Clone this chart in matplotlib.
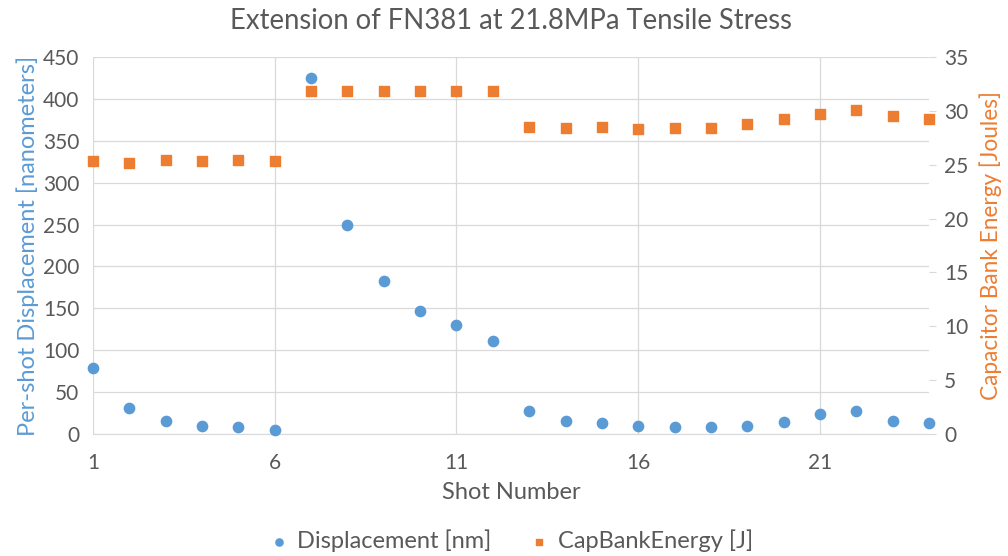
import matplotlib.pyplot as plt

shots = list(range(1, 25))
displacement = [79, 31, 15, 9, 8, 5, 425, 249, 183, 147, 130, 111,
                28, 15, 13, 10, 8, 8, 10, 14, 24, 27, 15, 13]
cap_energy = [25.3, 25.2, 25.4, 25.3, 25.4, 25.3, 31.8, 31.8, 31.8, 31.8, 31.8, 31.8,
              28.5, 28.4, 28.5, 28.3, 28.4, 28.4, 28.8, 29.2, 29.7, 30.1, 29.5, 29.2]
x_ticks = [1, 6, 11, 16, 21]

BLUE = '#5B9BD5'
ORANGE = '#ED7D31'
GRAY = '#595959'
GRID = '#D9D9D9'

plt.rcParams['font.family'] = ['Lato', 'DejaVu Sans']

fig = plt.figure(figsize=(10.08, 5.56), dpi=100)
ax = fig.add_axes([0.0923, 0.2194, 0.8293, 0.6781])
ax2 = ax.twinx()

ax.scatter(shots, displacement, s=55, color=BLUE, zorder=3, clip_on=False,
           label='Displacement [nm]')
ax2.scatter(shots, cap_energy, s=42, marker='s', color=ORANGE, zorder=3, clip_on=False,
            label='CapBankEnergy [J]')

ax.set_xlim(1, 24)
ax.set_ylim(0, 450)
ax2.set_ylim(0, 35)
ax.set_xticks(x_ticks)
ax.set_yticks(range(0, 451, 50))
ax2.set_yticks(range(0, 36, 5))

ax.grid(True, color=GRID, linewidth=0.9)
ax.set_axisbelow(True)
for a in (ax, ax2):
    for side in ('top', 'left', 'right'):
        a.spines[side].set_visible(False)
    a.spines['bottom'].set_color(GRID)
ax2.spines['bottom'].set_visible(False)

ax.tick_params(axis='x', length=0, labelsize=15, labelcolor=GRAY, pad=14)
ax.tick_params(axis='y', length=0, labelsize=15, labelcolor=GRAY, pad=10)
ax2.tick_params(axis='y', length=5, color=GRID, labelsize=15, labelcolor=GRAY, pad=6)

ax.set_xlabel('Shot Number', fontsize=17, color=GRAY, labelpad=6)
ax.set_ylabel('Per-shot Displacement [nanometers]', fontsize=17, color=BLUE, labelpad=3)
ax2.set_ylabel('Capacitor Bank Energy [Joules]', fontsize=16.3, color=ORANGE, labelpad=8)
ax.set_title('Extension of FN381 at 21.8MPa Tensile Stress', fontsize=19.8, color=GRAY, pad=20)

h1, l1 = ax.get_legend_handles_labels()
h2, l2 = ax2.get_legend_handles_labels()
fig.legend(h1 + h2, l1 + l2, loc='center', bbox_to_anchor=(0.507, 0.027), ncol=2,
           frameon=False, fontsize=17, labelcolor=GRAY, markerscale=0.7,
           handlelength=0.8, handletextpad=0.4, columnspacing=1.6)

fig.savefig('out.png', dpi=100)
